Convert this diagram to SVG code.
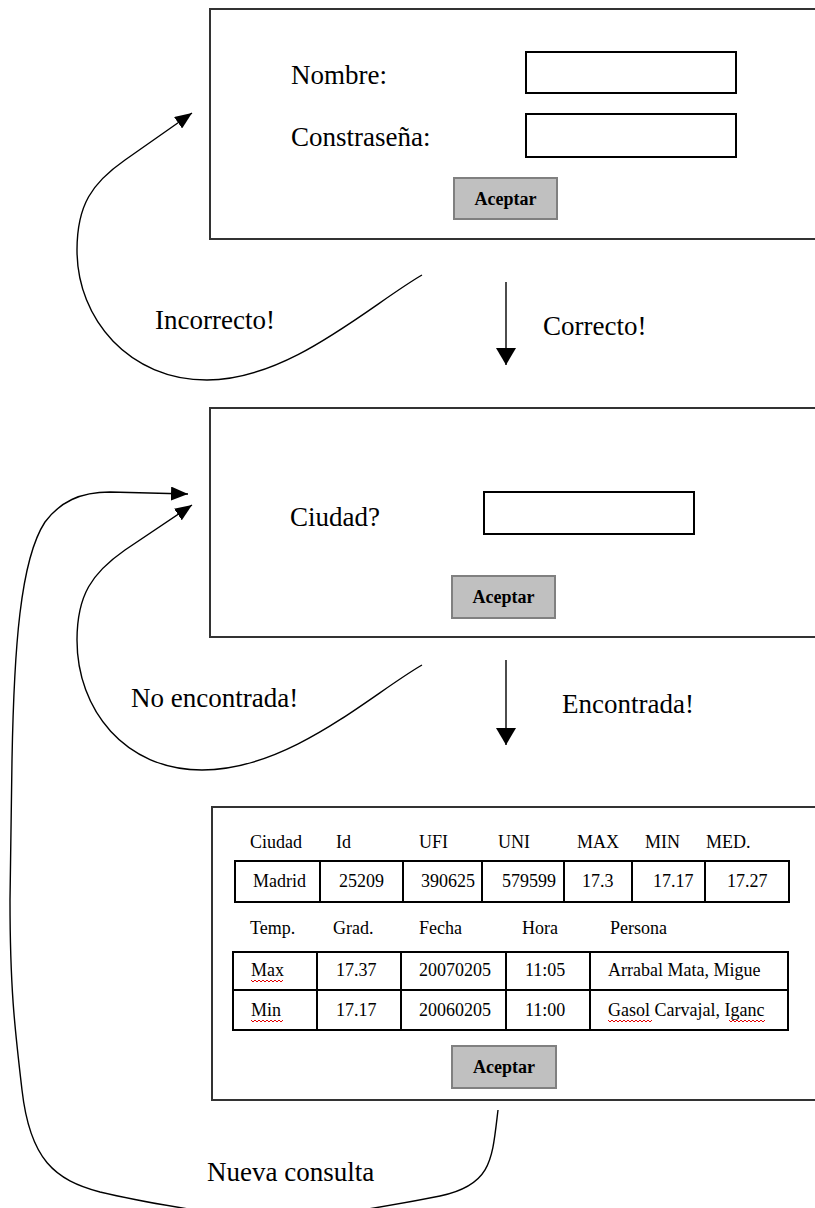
<svg xmlns="http://www.w3.org/2000/svg" width="815" height="1208" viewBox="0 0 815 1208">
<style>
  .panel{fill:#fff;stroke:#333;stroke-width:2}
  .input{fill:#fff;stroke:#000;stroke-width:2}
  .btn{fill:#c0c0c0;stroke:#808080;stroke-width:2}
  .btxt{font-family:"Liberation Serif","Times New Roman",serif;font-size:18px;font-weight:bold;fill:#000;text-anchor:middle}
  .lbl{font-family:"Liberation Serif","Times New Roman",serif;font-size:27px;fill:#000}
  .t{font-family:"Liberation Serif","Times New Roman",serif;font-size:18px;fill:#000}
  .cell{fill:none;stroke:#000;stroke-width:2}
  .conn{fill:none;stroke:#000;stroke-width:1.4}
  .sq{fill:none;stroke:#e00000;stroke-width:1}
</style>
<defs>
  <marker id="ah" markerUnits="userSpaceOnUse" viewBox="0 0 17 14" refX="17" refY="7" markerWidth="17" markerHeight="14" orient="auto">
    <path d="M0,0 L17,7 L0,14 z" fill="#000"/>
  </marker>
  <marker id="ahd" markerUnits="userSpaceOnUse" viewBox="0 0 17 20" refX="17" refY="10" markerWidth="17" markerHeight="20" orient="auto">
    <path d="M0,0 L17,10 L0,20 z" fill="#000"/>
  </marker>
</defs>

<g id="login">
  <rect class="panel" x="210" y="9" width="620" height="230"/>
  <text class="lbl" x="291" y="84">Nombre:</text>
  <text class="lbl" x="291" y="146">Constraseña:</text>
  <rect class="input" x="526" y="52" width="210" height="41"/>
  <rect class="input" x="526" y="114" width="210" height="43"/>
  <rect class="btn" x="454" y="178" width="103" height="41"/>
  <text class="btxt" x="505.5" y="205">Aceptar</text>
</g>

<g id="ciudad">
  <rect class="panel" x="210" y="408" width="620" height="229"/>
  <text class="lbl" x="290" y="526">Ciudad?</text>
  <rect class="input" x="484" y="492" width="210" height="42"/>
  <rect class="btn" x="452" y="576" width="103" height="42"/>
  <text class="btxt" x="503.5" y="603">Aceptar</text>
</g>

<g id="resultado">
  <rect class="panel" x="212" y="807" width="620" height="293"/>
  <g class="t">
    <text x="250" y="848">Ciudad</text>
    <text x="336" y="848">Id</text>
    <text x="419" y="848">UFI</text>
    <text x="498" y="848">UNI</text>
    <text x="577" y="848">MAX</text>
    <text x="645" y="848">MIN</text>
    <text x="706" y="848">MED.</text>
  </g>
  <rect class="cell" x="235" y="861" width="554" height="41"/>
  <path class="cell" d="M320,861V902M403,861V902M482,861V902M564,861V902M632,861V902M705,861V902"/>
  <g class="t">
    <text x="253" y="887">Madrid</text>
    <text x="339" y="887">25209</text>
    <text x="421" y="887">390625</text>
    <text x="502" y="887">579599</text>
    <text x="582" y="887">17.3</text>
    <text x="653" y="887">17.17</text>
    <text x="727" y="887">17.27</text>
  </g>
  <g class="t">
    <text x="250" y="934">Temp.</text>
    <text x="333" y="934">Grad.</text>
    <text x="419" y="934">Fecha</text>
    <text x="522" y="934">Hora</text>
    <text x="610" y="934">Persona</text>
  </g>
  <rect class="cell" x="233" y="952" width="555" height="78"/>
  <path class="cell" d="M233,990H788M317,952V1030M401,952V1030M506,952V1030M590,952V1030"/>
  <g class="t">
    <text x="251" y="976">Max</text>
    <text x="336" y="976">17.37</text>
    <text x="419" y="976">20070205</text>
    <text x="525" y="976">11:05</text>
    <text x="608" y="976">Arrabal Mata, Migue</text>
    <text x="251" y="1016">Min</text>
    <text x="336" y="1016">17.17</text>
    <text x="419" y="1016">20060205</text>
    <text x="525" y="1016">11:00</text>
    <text x="608" y="1016">Gasol Carvajal, Iganc</text>
  </g>
  <path class="sq" d="M251,980 l2,2 l2,-2 l2,2 l2,-2 l2,2 l2,-2 l2,2 l2,-2 l2,2 l2,-2 l2,2 l2,-2 l2,2 l2,-2 l2,2 l2,-2"/>
  <path class="sq" d="M251,1020 l2,2 l2,-2 l2,2 l2,-2 l2,2 l2,-2 l2,2 l2,-2 l2,2 l2,-2 l2,2 l2,-2 l2,2 l2,-2 l2,2 l2,-2"/>
  <path class="sq" d="M608,1020 l2,2 l2,-2 l2,2 l2,-2 l2,2 l2,-2 l2,2 l2,-2 l2,2 l2,-2 l2,2 l2,-2 l2,2 l2,-2 l2,2 l2,-2 l2,2 l2,-2 l2,2 l2,-2 l2,2 l2,-2"/>
  <path class="sq" d="M729,1020 l2,2 l2,-2 l2,2 l2,-2 l2,2 l2,-2 l2,2 l2,-2 l2,2 l2,-2 l2,2 l2,-2 l2,2 l2,-2 l2,2 l2,-2 l2,2 l2,-2"/>
  <rect class="btn" x="452" y="1046" width="104" height="42"/>
  <text class="btxt" x="504" y="1073">Aceptar</text>
</g>

<g id="connectors">
  <path class="conn" d="M506,282 V365" marker-end="url(#ahd)"/>
  <text class="lbl" x="543" y="335">Correcto!</text>
  <path class="conn" d="M422,275 C370,305 290,380 207,380 C130,380 77,320 77,250 C77,205 92,183 125,160 L192,113" marker-end="url(#ah)"/>
  <text class="lbl" x="155" y="329">Incorrecto!</text>
  <path class="conn" d="M506,660 V745" marker-end="url(#ahd)"/>
  <text class="lbl" x="562" y="713">Encontrada!</text>
  <path class="conn" d="M422,665 C370,695 290,770 202,770 C125,770 77,710 77,640 C77,595 92,573 125,550 L192,505" marker-end="url(#ah)"/>
  <text class="lbl" x="131" y="707">No encontrada!</text>
  <path class="conn" d="M498,1110 C492,1160 492,1185 440,1196 C400,1204 340,1214 280,1222 C230,1216 150,1204 100,1192 C55,1180 30,1160 22,1090 C15,1030 10,990 10,900 L12,760 C14,650 20,560 45,522 C60,502 80,492 110,492 L188,494" marker-end="url(#ah)"/>
  <text class="lbl" x="207" y="1181">Nueva consulta</text>
</g>
</svg>
